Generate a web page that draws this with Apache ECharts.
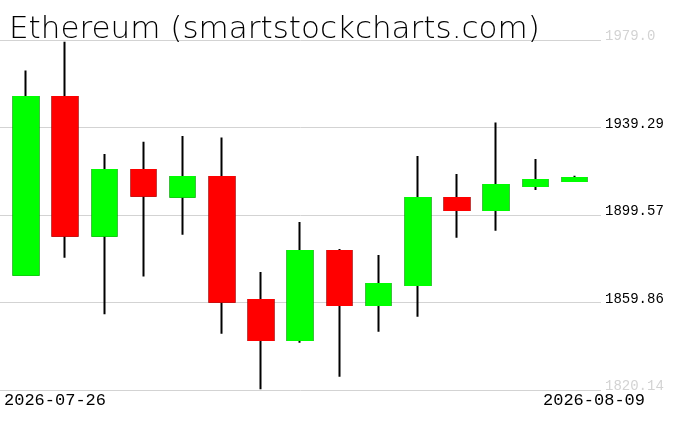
<!DOCTYPE html>
<html><head><meta charset="utf-8">
<script src="https://cdn.jsdelivr.net/npm/echarts@6/dist/echarts.min.js"></script>
<style>html,body{margin:0;padding:0;background:#fff}#c{width:676px;height:431px}</style>
</head><body><div id="c"></div>
<script>
const titleText = 'Ethereum (smartstockcharts.com)';
const dates = ['2026-07-26','2026-07-27','2026-07-28','2026-07-29','2026-07-30','2026-07-31','2026-08-01','2026-08-02','2026-08-03','2026-08-04','2026-08-05','2026-08-06','2026-08-07','2026-08-08','2026-08-09'];
const openV  = [1872.4, 1953.1, 1890.2, 1920.0, 1907.9, 1916.8, 1861.0, 1842.8, 1883.2, 1858.7, 1867.8, 1907.3, 1901.8, 1912.7, 1915.0];
const closeV = [1953.1, 1890.2, 1920.0, 1908.3, 1916.8, 1860.2, 1842.8, 1883.2, 1858.7, 1868.2, 1907.3, 1901.8, 1913.2, 1915.5, 1916.4];
const lowV   = [1872.0, 1880.2, 1854.5, 1871.6, 1890.6, 1845.7, 1820.5, 1841.6, 1826.2, 1846.6, 1853.4, 1889.3, 1892.4, 1910.9, 1914.6];
const highV  = [1965.1, 1978.2, 1927.3, 1932.8, 1935.4, 1934.7, 1873.7, 1896.4, 1884.1, 1881.4, 1926.4, 1918.2, 1941.5, 1925.0, 1917.4];
const yTickLabels = ['1820.14','1859.86','1899.57','1939.29','1979.0'];
const yMin = 1820.14, yMax = 1979.0;

const full = dates.map((d, i) => [openV[i], closeV[i], lowV[i], highV[i]]);
const bodies = dates.map((d, i) => [openV[i], closeV[i], Math.min(openV[i], closeV[i]), Math.max(openV[i], closeV[i])]);

const chart = echarts.init(document.getElementById('c'), null, {renderer: 'canvas'});
chart.setOption({
  animation: false,
  backgroundColor: '#fff',
  title: {
    text: titleText, left: 4, top: 9,
    textStyle: {fontFamily: 'DejaVu Sans', fontWeight: 200, fontSize: 31, color: '#000'}
  },
  grid: [
    {left: 0, width: 601, top: 40, height: 350},
    {left: 6.4, width: 587.7, top: 40, height: 350}
  ],
  xAxis: [
    {gridIndex: 0, type: 'value', min: 0, max: 1, show: false},
    {gridIndex: 1, type: 'category', data: dates, show: false, boundaryGap: true}
  ],
  yAxis: [
    {gridIndex: 0, type: 'value', position: 'right', min: 0, max: yTickLabels.length - 1, interval: 1,
     axisLine: {show: false}, axisTick: {show: false},
     splitLine: {show: true, lineStyle: {color: '#d3d3d3', width: 1}},
     axisLabel: {
       margin: 4, fontFamily: 'Liberation Mono', fontSize: 14,
       verticalAlign: 'bottom', lineHeight: 7,
       formatter: (v) => yTickLabels[Math.round(v)],
       color: (v) => (Math.round(v) === 0 || Math.round(v) === yTickLabels.length - 1) ? '#d3d3d3' : '#000'
     }},
    {gridIndex: 1, type: 'value', min: yMin, max: yMax, show: false, splitLine: {show: false}}
  ],
  graphic: [
    {type: 'text', left: 4, top: 392, z: 10, style: {text: dates[0], font: '17px "Liberation Mono"', fill: '#000'}},
    {type: 'text', right: 31, top: 392, z: 10, style: {text: dates[dates.length - 1], font: '17px "Liberation Mono"', fill: '#000'}}
  ],
  series: [
    {type: 'candlestick', xAxisIndex: 1, yAxisIndex: 1, data: full, barWidth: 25,
     itemStyle: {color: '#000', color0: '#000', borderColor: '#000', borderColor0: '#000', borderWidth: 2}},
    {type: 'candlestick', xAxisIndex: 1, yAxisIndex: 1, data: bodies, barWidth: 25,
     itemStyle: {color: '#00ff00', color0: '#ff0000', borderColor: '#00ff00', borderColor0: '#ff0000', borderWidth: 2}}
  ]
});
</script></body></html>
